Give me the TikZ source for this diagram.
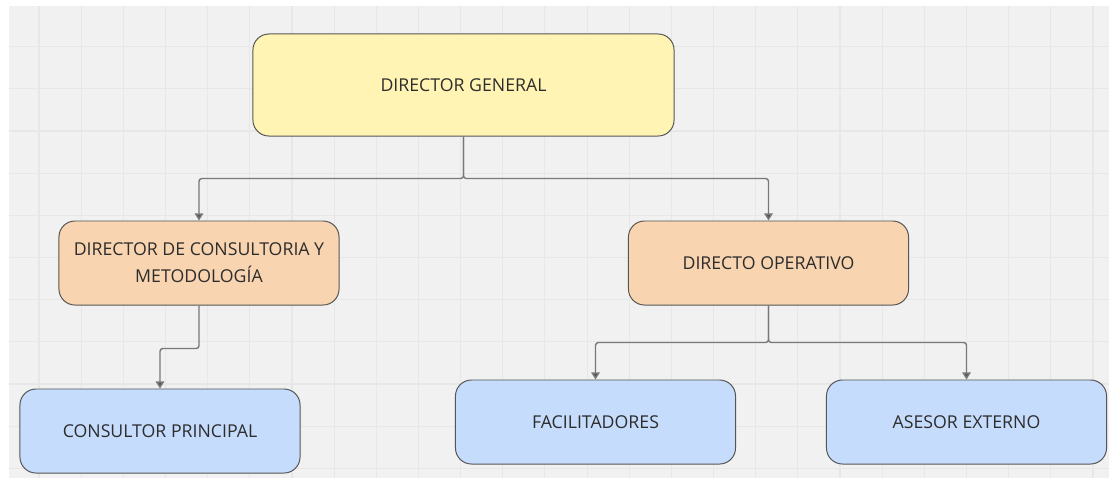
\documentclass[tikz,border=0pt]{standalone}
\usepackage{fontspec}
\setmainfont{Open Sans}
\usepackage{tikz}
\usetikzlibrary{calc, positioning, arrows.meta}
\definecolor{paper}{RGB}{241, 241, 241}
\definecolor{gridLine}{RGB}{231, 231, 231}
\definecolor{boxEdge}{RGB}{85, 85, 85}
\definecolor{linkLine}{RGB}{120, 120, 120}
\definecolor{headBox}{RGB}{255, 244, 179}
\definecolor{midBox}{RGB}{248, 212, 176}
\definecolor{lowBox}{RGB}{198, 220, 252}
\definecolor{label}{RGB}{45, 45, 45}

\begin{document}
\begin{tikzpicture}[x=0.025cm, y=-0.025cm,
    font=\fontsize{12.6}{19}\selectfont,
    unit/.style={draw=boxEdge, line width=0.7pt, rounded corners=0.4cm,
                 text=label, align=center, minimum width=7cm, minimum height=2.1cm},
    link/.style={draw=linkLine, line width=1pt, rounded corners=2pt,
                 -{Triangle[length=5pt, width=6pt, fill=boxEdge]}}]
  % Canvas
  \useasboundingbox (0,0) rectangle (1109,482);
  \fill[paper] (9,6) rectangle (1109,478);
  \foreach \i in {0,...,25}
    \draw[gridLine, line width=0.8pt] ({39+42.16*\i},6) -- ++(0,472);
  \foreach \j in {0,...,10}
    \draw[gridLine, line width=0.8pt] (9,{46.7+42.16*\j}) -- ++(1100,0);

  % Top level
  \node[unit, fill=headBox, minimum width=10.525cm, minimum height=2.55cm]
    (dg) at (463.5,85) {DIRECTOR GENERAL};

  % Second level
  \node[unit, fill=midBox] (dcm) at (199,263) {DIRECTOR DE CONSULTORIA Y\\METODOLOGÍA};
  \node[unit, fill=midBox] (dop) at (768.5,263) {DIRECTO OPERATIVO};

  % Third level
  \node[unit, fill=lowBox] (cp)  at (160,431)   {CONSULTOR PRINCIPAL};
  \node[unit, fill=lowBox] (fac) at (595.5,422) {FACILITADORES};
  \node[unit, fill=lowBox] (ase) at (966.5,422) {ASESOR EXTERNO};

  % Links
  \draw[link] (dg.south) -- ++(0,42) -| (dcm.north);
  \draw[link] (dg.south) -- ++(0,42) -| (dop.north);
  \draw[link] (dcm.south) -- ++(0,43) -| (cp.north);
  \draw[link] (dop.south) -- ++(0,37) -| (fac.north);
  \draw[link] (dop.south) -- ++(0,37) -| (ase.north);
\end{tikzpicture}
\end{document}
